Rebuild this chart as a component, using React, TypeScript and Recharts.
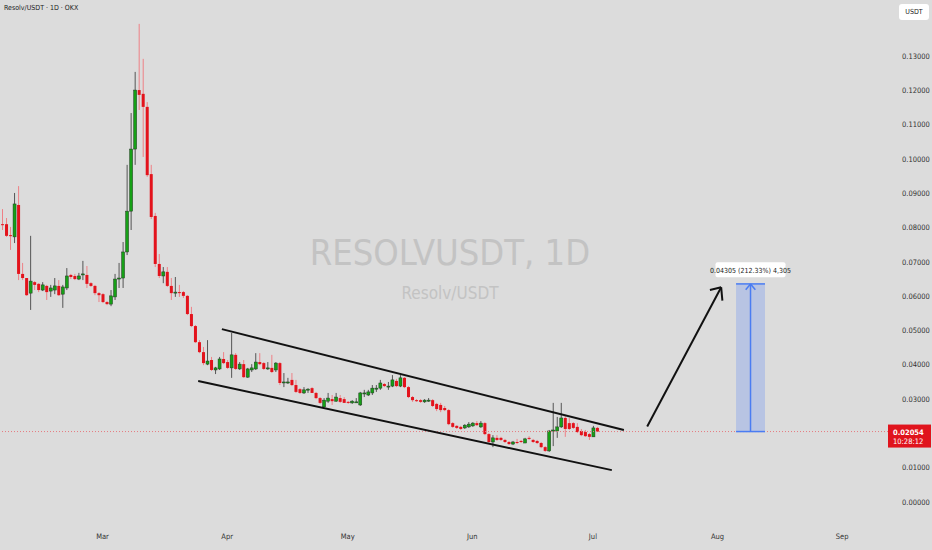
import {
  ComposedChart, Bar, XAxis, YAxis, ReferenceLine, ReferenceArea, ReferenceDot,
} from "recharts";

// daily candles, first one is Feb 4
const opens = [
  0.0810, 0.0810, 0.0778, 0.0773, 0.0866, 0.0665, 0.0653, 0.0609, 0.0641, 0.0636,
  0.0618, 0.0630, 0.0615, 0.0618, 0.0630, 0.0606, 0.0624, 0.0662, 0.0659, 0.0650,
  0.0662, 0.0662, 0.0638, 0.0630, 0.0609, 0.0606, 0.0583, 0.0577, 0.0598, 0.0650,
  0.0653, 0.0729, 0.0848, 0.1029, 0.1201, 0.1190, 0.1152, 0.0956, 0.0834, 0.0694,
  0.0659, 0.0671, 0.0630, 0.0609, 0.0612, 0.0612, 0.0601, 0.0548, 0.0513, 0.0466,
  0.0437, 0.0402, 0.0414, 0.0385, 0.0388, 0.0417, 0.0408, 0.0391, 0.0429, 0.0388,
  0.0402, 0.0364, 0.0385, 0.0388, 0.0408, 0.0405, 0.0388, 0.0391, 0.0385, 0.0405,
  0.0349, 0.0347, 0.0356, 0.0341, 0.0329, 0.0318, 0.0327, 0.0332, 0.0318, 0.0303,
  0.0277, 0.0294, 0.0300, 0.0294, 0.0303, 0.0300, 0.0292, 0.0289, 0.0291, 0.0283,
  0.0315, 0.0312, 0.0318, 0.0329, 0.0332, 0.0344, 0.0337, 0.0338, 0.0353, 0.0338,
  0.0362, 0.0335, 0.0306, 0.0297, 0.0297, 0.0292, 0.0294, 0.0297, 0.0286, 0.0283,
  0.0274, 0.0268, 0.0230, 0.0222, 0.0219, 0.0216, 0.0219, 0.0222, 0.0230, 0.0219,
  0.0230, 0.0198, 0.0175, 0.0187, 0.0187, 0.0181, 0.0175, 0.0169, 0.0175, 0.0178,
  0.0172, 0.0187, 0.0181, 0.0178, 0.0172, 0.0160, 0.0149, 0.0207, 0.0207, 0.0219,
  0.0245, 0.0230, 0.0230, 0.0219, 0.0207, 0.0204, 0.0198, 0.0190, 0.0216,
];
const highs = [
  0.0854, 0.0828, 0.0802, 0.0901, 0.0921, 0.0697, 0.0653, 0.0776, 0.0644, 0.0638,
  0.0641, 0.0633, 0.0633, 0.0653, 0.0647, 0.0633, 0.0682, 0.0665, 0.0665, 0.0668,
  0.0703, 0.0688, 0.0641, 0.0633, 0.0612, 0.0609, 0.0586, 0.0618, 0.0665, 0.0697,
  0.0758, 0.0983, 0.1134, 0.1254, 0.1394, 0.1292, 0.1166, 0.0983, 0.0843, 0.0723,
  0.0685, 0.0685, 0.0653, 0.0656, 0.0633, 0.0615, 0.0603, 0.0569, 0.0516, 0.0472,
  0.0452, 0.0472, 0.0423, 0.0394, 0.0423, 0.0437, 0.0414, 0.0493, 0.0434, 0.0408,
  0.0414, 0.0391, 0.0402, 0.0434, 0.0434, 0.0408, 0.0408, 0.0429, 0.0408, 0.0408,
  0.0376, 0.0362, 0.0376, 0.0356, 0.0332, 0.0335, 0.0332, 0.0335, 0.0321, 0.0306,
  0.0303, 0.0318, 0.0312, 0.0318, 0.0312, 0.0306, 0.0294, 0.0297, 0.0303, 0.0321,
  0.0327, 0.0327, 0.0341, 0.0341, 0.0356, 0.0347, 0.0350, 0.0370, 0.0359, 0.0370,
  0.0364, 0.0338, 0.0309, 0.0300, 0.0300, 0.0300, 0.0303, 0.0300, 0.0289, 0.0289,
  0.0280, 0.0271, 0.0233, 0.0224, 0.0222, 0.0227, 0.0233, 0.0233, 0.0236, 0.0236,
  0.0233, 0.0201, 0.0195, 0.0195, 0.0190, 0.0184, 0.0178, 0.0178, 0.0184, 0.0181,
  0.0187, 0.0192, 0.0184, 0.0181, 0.0175, 0.0163, 0.0210, 0.0289, 0.0248, 0.0289,
  0.0254, 0.0245, 0.0233, 0.0230, 0.0213, 0.0210, 0.0201, 0.0222, 0.0219,
];
const lows = [
  0.0793, 0.0773, 0.0735, 0.0755, 0.0647, 0.0647, 0.0601, 0.0560, 0.0618, 0.0612,
  0.0615, 0.0589, 0.0598, 0.0606, 0.0601, 0.0566, 0.0618, 0.0650, 0.0647, 0.0647,
  0.0647, 0.0624, 0.0627, 0.0603, 0.0583, 0.0580, 0.0574, 0.0571, 0.0589, 0.0624,
  0.0624, 0.0720, 0.0793, 0.0983, 0.1143, 0.1006, 0.0948, 0.0825, 0.0685, 0.0653,
  0.0638, 0.0627, 0.0589, 0.0598, 0.0598, 0.0595, 0.0545, 0.0510, 0.0464, 0.0434,
  0.0399, 0.0399, 0.0382, 0.0373, 0.0385, 0.0402, 0.0388, 0.0362, 0.0385, 0.0385,
  0.0362, 0.0362, 0.0379, 0.0385, 0.0399, 0.0385, 0.0385, 0.0376, 0.0379, 0.0341,
  0.0335, 0.0344, 0.0338, 0.0318, 0.0315, 0.0315, 0.0318, 0.0318, 0.0300, 0.0286,
  0.0277, 0.0289, 0.0283, 0.0292, 0.0289, 0.0289, 0.0286, 0.0286, 0.0289, 0.0280,
  0.0306, 0.0309, 0.0312, 0.0321, 0.0327, 0.0335, 0.0327, 0.0335, 0.0335, 0.0335,
  0.0332, 0.0303, 0.0292, 0.0292, 0.0289, 0.0289, 0.0292, 0.0277, 0.0265, 0.0262,
  0.0265, 0.0224, 0.0216, 0.0213, 0.0210, 0.0213, 0.0216, 0.0219, 0.0222, 0.0216,
  0.0195, 0.0169, 0.0160, 0.0178, 0.0178, 0.0172, 0.0166, 0.0166, 0.0169, 0.0172,
  0.0172, 0.0181, 0.0172, 0.0169, 0.0157, 0.0146, 0.0146, 0.0163, 0.0187, 0.0216,
  0.0190, 0.0210, 0.0213, 0.0201, 0.0192, 0.0190, 0.0181, 0.0190, 0.0204,
];
const closes = [
  0.0808, 0.0776, 0.0776, 0.0869, 0.0665, 0.0653, 0.0603, 0.0644, 0.0633, 0.0618,
  0.0633, 0.0612, 0.0624, 0.0630, 0.0603, 0.0627, 0.0659, 0.0656, 0.0650, 0.0659,
  0.0665, 0.0636, 0.0630, 0.0609, 0.0603, 0.0583, 0.0577, 0.0601, 0.0650, 0.0653,
  0.0729, 0.0848, 0.1029, 0.1201, 0.1187, 0.1152, 0.0953, 0.0831, 0.0694, 0.0659,
  0.0671, 0.0630, 0.0609, 0.0612, 0.0609, 0.0601, 0.0548, 0.0513, 0.0466, 0.0437,
  0.0405, 0.0411, 0.0385, 0.0391, 0.0417, 0.0405, 0.0391, 0.0429, 0.0388, 0.0402,
  0.0364, 0.0388, 0.0391, 0.0408, 0.0402, 0.0388, 0.0391, 0.0379, 0.0405, 0.0347,
  0.0350, 0.0350, 0.0341, 0.0321, 0.0318, 0.0327, 0.0329, 0.0318, 0.0303, 0.0289,
  0.0297, 0.0303, 0.0294, 0.0306, 0.0292, 0.0289, 0.0289, 0.0294, 0.0292, 0.0318,
  0.0318, 0.0321, 0.0332, 0.0332, 0.0347, 0.0338, 0.0338, 0.0356, 0.0338, 0.0362,
  0.0335, 0.0306, 0.0297, 0.0294, 0.0292, 0.0297, 0.0297, 0.0280, 0.0271, 0.0268,
  0.0268, 0.0227, 0.0219, 0.0216, 0.0213, 0.0224, 0.0227, 0.0230, 0.0224, 0.0230,
  0.0198, 0.0175, 0.0187, 0.0181, 0.0181, 0.0175, 0.0169, 0.0175, 0.0172, 0.0175,
  0.0184, 0.0184, 0.0175, 0.0172, 0.0160, 0.0149, 0.0207, 0.0210, 0.0219, 0.0245,
  0.0213, 0.0213, 0.0216, 0.0204, 0.0195, 0.0192, 0.0190, 0.0216, 0.02054,
];

const monthTicks = [25, 56, 86, 117, 147, 178, 209];
const monthLabels = ["Mar", "Apr", "May", "Jun", "Jul", "Aug", "Sep"];
// 0.02 sits under the last-price tag and 0.14 under the currency badge, so they are left out
const priceTicks = [0, 0.01, 0.03, 0.04, 0.05, 0.06, 0.07, 0.08, 0.09, 0.1, 0.11, 0.12, 0.13];

const lastPrice = 0.02054;
const countdown = "10:28:12";
const targetMove = "0.04305";
const targetPct = "212.33%";
const targetTicks = "4,305";
const targetTop = 0.06359;

// drawings, [candle index, price]
const upperChannel = [[54.7, 0.0504], [154.7, 0.021]];
const lowerChannel = [[48.8, 0.0353], [151.7, 0.0093]];
const arrowLine = [[160.5, 0.022], [178.9, 0.0626]];
const arrowHeadA = [176.1, 0.0618];
const arrowHeadB = [179.2, 0.0587];
const boxLeft = 182.6;
const boxRight = 189.8;
const boxMid = 186.2;

const FONT = "'Liberation Sans Narrow', 'DejaVu Sans Condensed', 'Liberation Sans', sans-serif";
const BG = "#dcdcdc";

const data = opens.map((o, i) => ({ i, open: o, high: highs[i], low: lows[i], close: closes[i] }));

function Candle(props: any) {
  const { x, y, width, height, payload } = props;
  const top = Math.min(y, y + height);
  const h = Math.abs(height);
  const { open, high, low, close } = payload;
  const k = high - low > 0 ? h / (high - low) : 0;
  const yO = top + (high - open) * k;
  const yC = top + (high - close) * k;
  const up = close >= open;
  const cx = x + width / 2;
  const bTop = Math.min(yO, yC);
  const bH = Math.max(1, Math.abs(yO - yC));
  return (
    <g>
      <line x1={cx} x2={cx} y1={top} y2={top + h} stroke={up ? "#555" : "#ee8086"} strokeWidth={1} />
      <rect x={x} y={bTop} width={width} height={bH}
        fill={up ? "#16a016" : "#e3131c"} stroke={up ? "#233a23" : "none"} strokeWidth={0.5} />
    </g>
  );
}

function PriceTag(props: any) {
  const vb = props.viewBox || {};
  const x = (vb.x || 0) + (vb.width || 0);
  const y = vb.y || 0;
  return (
    <g>
      <rect x={x} y={y - 7} width={43} height={23} fill="#e0141d" />
      <text x={x + 5} y={y + 3} fontSize={7.5} fill="#fff" fontFamily={FONT} fontWeight="bold">
        {lastPrice.toFixed(5)}
      </text>
      <text x={x + 5} y={y + 12.5} fontSize={7.5} fill="#fff" fontFamily={FONT}>{countdown}</text>
    </g>
  );
}

function TargetLabel(props: any) {
  const { cx, cy } = props;
  return (
    <g>
      <rect x={cx - 35} y={cy - 8} width={70} height={15} rx={2} fill="#fff" />
      <text x={cx} y={cy + 2.5} fontSize={7} fill="#222" textAnchor="middle" fontFamily={FONT}>
        {`${targetMove} (${targetPct}) ${targetTicks}`}
      </text>
    </g>
  );
}

const seg = (a: number[], b: number[]) => [{ x: a[0], y: a[1] }, { x: b[0], y: b[1] }];

export default function App() {
  return (
    <div style={{ position: "absolute", left: 0, top: 0, width: 932, height: 550, background: BG, overflow: "hidden", fontFamily: FONT }}>
      <div style={{ position: "absolute", left: 0, width: 900, top: 230, textAlign: "center", fontSize: 36, color: "#c3c3c3", lineHeight: "46px" }}>
        RESOLVUSDT, 1D
      </div>
      <div style={{ position: "absolute", left: 0, width: 900, top: 281, textAlign: "center", fontSize: 17, color: "#c3c3c3", lineHeight: "24px" }}>
        Resolv/USDT
      </div>
      <div style={{ position: "absolute", left: 0, top: 0 }}>
        <ComposedChart width={932} height={550} data={data} margin={{ top: 0, right: 0, bottom: 0, left: 0 }}>
          <XAxis dataKey="i" type="number" domain={[-0.5, 220.4]} allowDataOverflow ticks={monthTicks}
            tickFormatter={(v) => monthLabels[monthTicks.indexOf(v)] ?? ""} height={26}
            axisLine={false} tickLine={false} tickMargin={4}
            tick={{ fontSize: 7.5, fill: "#333", fontFamily: FONT }} />
          <YAxis orientation="right" type="number" domain={[-0.00641, 0.14636]} allowDataOverflow ticks={priceTicks}
            tickFormatter={(v) => v.toFixed(5)} width={44} axisLine={false} tickLine={false} tickMargin={8}
            tick={{ fontSize: 7.5, fill: "#333", fontFamily: FONT, textAnchor: "start" }} />
          <ReferenceLine y={lastPrice} stroke="#e57a7f" strokeDasharray="1 2" strokeWidth={1}
            label={{ content: PriceTag }} />
          <Bar dataKey={(d: any) => [d.low, d.high]} barSize={3} shape={Candle} isAnimationActive={false} />
          <ReferenceLine segment={seg(upperChannel[0], upperChannel[1])} stroke="#111" strokeWidth={2} />
          <ReferenceLine segment={seg(lowerChannel[0], lowerChannel[1])} stroke="#111" strokeWidth={2} />
          <ReferenceLine segment={seg(arrowLine[0], arrowLine[1])} stroke="#111" strokeWidth={2} />
          <ReferenceLine segment={seg(arrowHeadA, arrowLine[1])} stroke="#111" strokeWidth={2} />
          <ReferenceLine segment={seg(arrowHeadB, arrowLine[1])} stroke="#111" strokeWidth={2} />
          <ReferenceArea x1={boxLeft} x2={boxRight} y1={lastPrice} y2={targetTop}
            fill="#2962ff" fillOpacity={0.2} stroke="none" />
          <ReferenceLine segment={seg([boxLeft, targetTop], [boxRight, targetTop])} stroke="#4a7cf2" strokeWidth={1.5} />
          <ReferenceLine segment={seg([boxLeft, lastPrice], [boxRight, lastPrice])} stroke="#4a7cf2" strokeWidth={1.5} />
          <ReferenceLine segment={seg([boxMid, lastPrice], [boxMid, targetTop])} stroke="#4a7cf2" strokeWidth={1.5} />
          <ReferenceLine segment={seg([boxMid - 1.2, targetTop - 0.0017], [boxMid, targetTop])} stroke="#4a7cf2" strokeWidth={1.5} />
          <ReferenceLine segment={seg([boxMid + 1.2, targetTop - 0.0017], [boxMid, targetTop])} stroke="#4a7cf2" strokeWidth={1.5} />
          <ReferenceDot x={boxMid} y={0.0676} r={0} shape={TargetLabel} />
        </ComposedChart>
      </div>
      <div style={{ position: "absolute", left: 4, top: 4, fontSize: 7, color: "#222" }}>
        Resolv/USDT · 1D · OKX
      </div>
      <div style={{ position: "absolute", left: 899, top: 4, width: 30, height: 16, background: "#fff", borderRadius: 3, fontSize: 7, color: "#222", lineHeight: "16px", textAlign: "center" }}>
        USDT
      </div>
    </div>
  );
}
